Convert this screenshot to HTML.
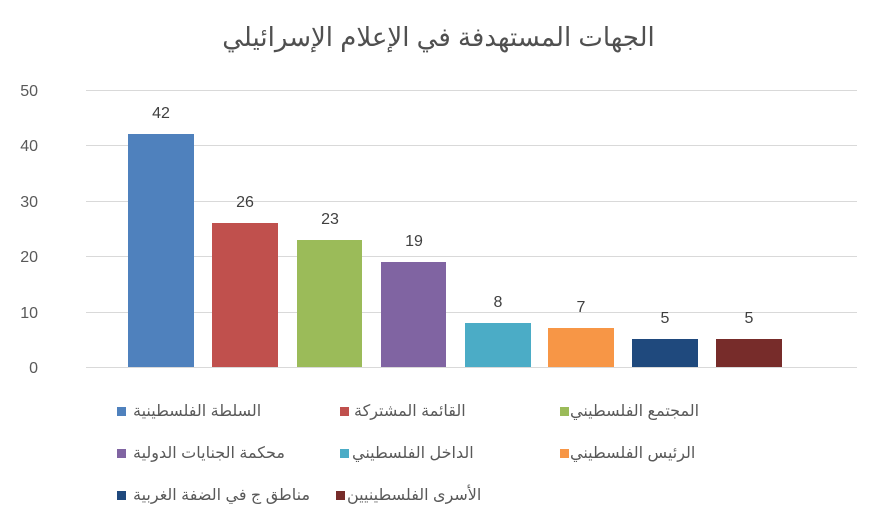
<!DOCTYPE html>
<html><head><meta charset="utf-8"><style>
body{margin:0;background:#fff;width:877px;height:526px;overflow:hidden;position:relative;font-family:"Liberation Sans","DejaVu Sans",sans-serif;color:#595959}
.t{position:absolute;white-space:nowrap}
.sq{position:absolute;width:9px;height:9px}
.lg{position:absolute;font-size:16px;direction:rtl;unicode-bidi:isolate;white-space:nowrap;line-height:18px}
</style></head><body>
<div class="t" style="left:0;width:877px;top:22px;text-align:center;font-size:26px;direction:rtl;color:#505050">الجهات المستهدفة في الإعلام الإسرائيلي</div>
<svg width="877" height="526" style="position:absolute;left:0;top:0">
<g stroke="#d9d9d9" stroke-width="1">
<line x1="86" x2="857" y1="90.5" y2="90.5"/><line x1="86" x2="857" y1="145.5" y2="145.5"/>
<line x1="86" x2="857" y1="201.5" y2="201.5"/><line x1="86" x2="857" y1="256.5" y2="256.5"/>
<line x1="86" x2="857" y1="312.5" y2="312.5"/><line x1="86" x2="857" y1="367.5" y2="367.5"/>
</g>
<g font-size="16" fill="#595959" text-anchor="end" font-family="Liberation Sans">
<text x="38" y="96">50</text><text x="38" y="151">40</text><text x="38" y="207">30</text>
<text x="38" y="262">20</text><text x="38" y="318">10</text><text x="38" y="373">0</text>
</g>
<rect x="128" y="134" width="66" height="233" fill="#4f81bd"/>
<rect x="212" y="223" width="66" height="144" fill="#c0504d"/>
<rect x="297" y="240" width="65" height="127" fill="#9bbb59"/>
<rect x="381" y="262" width="65" height="105" fill="#8064a2"/>
<rect x="465" y="323" width="66" height="44" fill="#4bacc6"/>
<rect x="548" y="328" width="66" height="39" fill="#f79646"/>
<rect x="632" y="339" width="66" height="28" fill="#1f497d"/>
<rect x="716" y="339" width="66" height="28" fill="#772c2a"/>
<g font-size="16" fill="#404040" text-anchor="middle" font-family="Liberation Sans">
<text x="161" y="118">42</text><text x="245" y="207">26</text><text x="330" y="224">23</text>
<text x="414" y="246">19</text><text x="498" y="307">8</text><text x="581" y="312">7</text>
<text x="665" y="323">5</text><text x="749" y="323">5</text>
</g>
</svg>
<div class="sq" style="left:117px;top:407px;background:#4f81bd"></div><div class="lg" style="left:133px;top:403px">السلطة الفلسطينية</div>
<div class="sq" style="left:340px;top:407px;background:#c0504d"></div><div class="lg" style="left:354px;top:403px">القائمة المشتركة</div>
<div class="sq" style="left:560px;top:407px;background:#9bbb59"></div><div class="lg" style="left:570px;top:403px">المجتمع الفلسطيني</div>
<div class="sq" style="left:117px;top:449px;background:#8064a2"></div><div class="lg" style="left:133px;top:445px">محكمة الجنايات الدولية</div>
<div class="sq" style="left:340px;top:449px;background:#4bacc6"></div><div class="lg" style="left:352px;top:445px">الداخل الفلسطيني</div>
<div class="sq" style="left:560px;top:449px;background:#f79646"></div><div class="lg" style="left:570px;top:445px">الرئيس الفلسطيني</div>
<div class="sq" style="left:117px;top:491px;background:#1f497d"></div><div class="lg" style="left:133px;top:487px">مناطق ج في الضفة الغربية</div>
<div class="sq" style="left:336px;top:491px;background:#772c2a"></div><div class="lg" style="left:347px;top:487px">الأسرى الفلسطينيين</div>
</body></html>
